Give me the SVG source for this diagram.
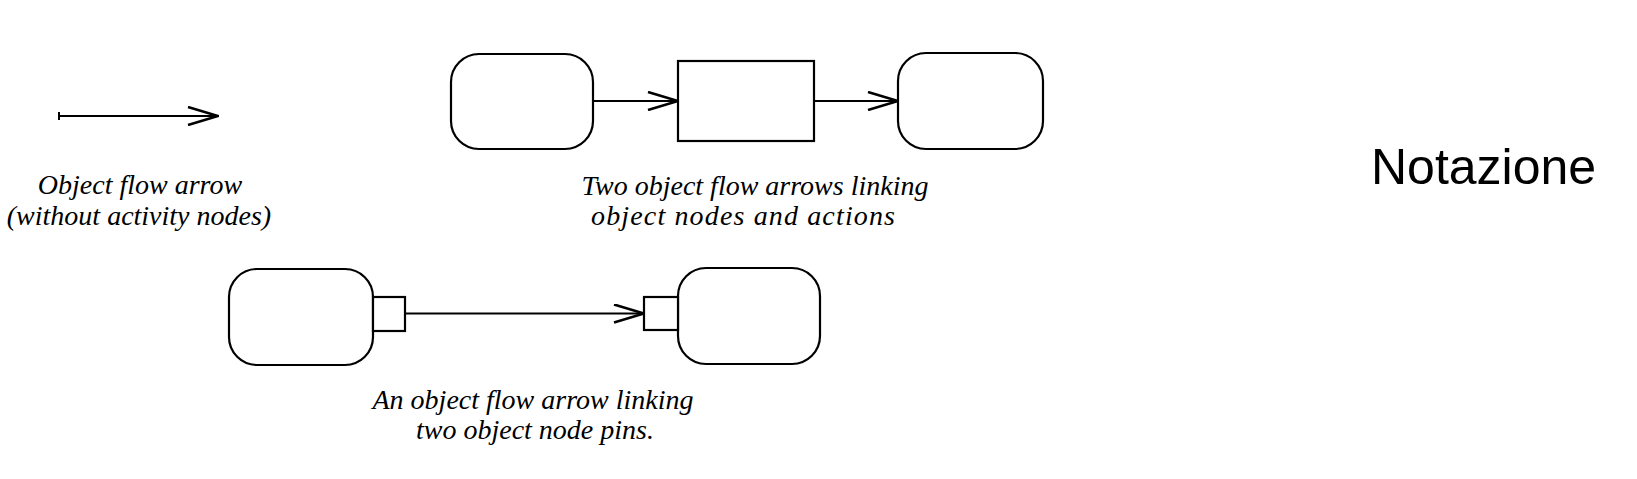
<svg xmlns="http://www.w3.org/2000/svg" width="1637" height="479" viewBox="0 0 1637 479">
  <style>
    .obj { fill: #ffffff; stroke: #000000; stroke-width: 2.2; }
    .act { fill: #ffffff; stroke: #000000; stroke-width: 2.2; }
    .pin { fill: #ffffff; stroke: #000000; stroke-width: 2.2; }
    .flow { fill: none; stroke: #000000; stroke-width: 2.2; marker-end: url(#open); }
    .lbl { font-family: "Liberation Serif", "Times New Roman", serif; font-style: italic; font-size: 28px; fill: #000000; text-anchor: middle; }
    .title { font-family: "Liberation Sans", Arial, sans-serif; font-size: 50px; fill: #000000; }
  </style>
  <defs>
    <marker id="open" viewBox="0 0 32 20" refX="31" refY="10" markerWidth="32" markerHeight="20" markerUnits="userSpaceOnUse" orient="auto">
      <path d="M1,1 L31,10 L1,19" fill="none" stroke="#000000" stroke-width="2.6"/>
    </marker>
  </defs>
  <rect x="0" y="0" width="1637" height="479" fill="#ffffff"/>

  <g id="example-standalone">
    <text class="lbl" x="140" y="194">Object flow arrow</text>
    <text class="lbl" x="139" y="225">(without activity nodes)</text>
  </g>

  <g id="obj-top-left">
    <rect class="obj" x="451" y="54" width="142" height="95" rx="28" ry="28"/>
  </g>
  <g id="action-top">
    <rect class="act" x="678" y="61" width="136" height="80"/>
  </g>
  <g id="obj-top-right">
    <rect class="obj" x="898" y="53" width="145" height="96" rx="28" ry="28"/>
  </g>
  <g id="caption-top">
    <text class="lbl" x="755" y="195">Two object flow arrows linking</text>
    <text class="lbl" x="743" y="225" textLength="304" lengthAdjust="spacing">object nodes and actions</text>
  </g>

  <g id="obj-bottom-left">
    <rect class="obj" x="229" y="269" width="144" height="96" rx="28" ry="28"/>
    <rect class="pin" x="373" y="297" width="32" height="34"/>
  </g>
  <g id="obj-bottom-right">
    <rect class="obj" x="678" y="268" width="142" height="96" rx="28" ry="28"/>
    <rect class="pin" x="644" y="297" width="34" height="33"/>
  </g>
  <g id="caption-bottom">
    <text class="lbl" x="533" y="409">An object flow arrow linking</text>
    <text class="lbl" x="535" y="439">two object node pins.</text>
  </g>

  <g id="title">
    <text class="title" x="1371" y="184">Notazione</text>
  </g>

  <g id="connectors">
    <line x1="59" y1="112" x2="59" y2="120" stroke="#000000" stroke-width="2"/>
    <line class="flow" x1="59" y1="116" x2="218" y2="116"/>
    <line class="flow" x1="593" y1="101" x2="678" y2="101"/>
    <line class="flow" x1="814" y1="101" x2="898" y2="101"/>
    <line class="flow" x1="405" y1="313.5" x2="644" y2="313.5"/>
  </g>
</svg>
